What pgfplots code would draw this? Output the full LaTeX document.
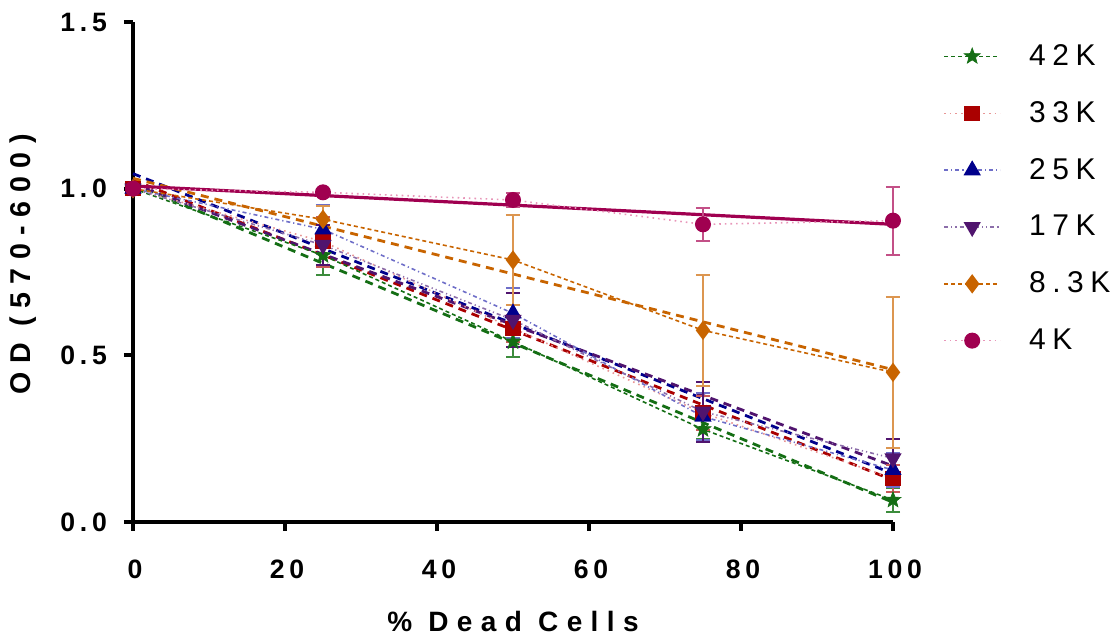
\documentclass[border=0pt]{standalone}
\usepackage{fontspec}
\setmainfont{Liberation Sans}
\newfontfamily\spfont[LetterSpace=30]{Liberation Sans}
\newfontfamily\tkfont[LetterSpace=18]{Liberation Sans}
\newfontfamily\legfont[LetterSpace=22]{Liberation Sans}
\usepackage{pgfplots}
\pgfplotsset{compat=1.18}
\usetikzlibrary{plotmarks}

\pgfdeclareplotmark{fstar}{%
  \pgfpathmoveto{\pgfpointpolar{90}{\pgfplotmarksize}}%
  \pgfpathlineto{\pgfpointpolar{126}{0.42\pgfplotmarksize}}%
  \pgfpathlineto{\pgfpointpolar{162}{\pgfplotmarksize}}%
  \pgfpathlineto{\pgfpointpolar{198}{0.42\pgfplotmarksize}}%
  \pgfpathlineto{\pgfpointpolar{234}{\pgfplotmarksize}}%
  \pgfpathlineto{\pgfpointpolar{270}{0.42\pgfplotmarksize}}%
  \pgfpathlineto{\pgfpointpolar{306}{\pgfplotmarksize}}%
  \pgfpathlineto{\pgfpointpolar{342}{0.42\pgfplotmarksize}}%
  \pgfpathlineto{\pgfpointpolar{18}{\pgfplotmarksize}}%
  \pgfpathlineto{\pgfpointpolar{54}{0.42\pgfplotmarksize}}%
  \pgfpathclose
  \pgfusepathqfillstroke}

\definecolor{cA}{RGB}{20,110,20}
\definecolor{cAl}{RGB}{60,140,60}
\definecolor{cB}{RGB}{170,0,0}
\definecolor{cBl}{RGB}{232,150,150}
\definecolor{cBe}{RGB}{200,90,90}
\definecolor{cC}{RGB}{0,0,140}
\definecolor{cCl}{RGB}{110,110,200}
\definecolor{cD}{RGB}{80,20,110}
\definecolor{cDl}{RGB}{140,110,170}
\definecolor{cE}{RGB}{200,100,0}
\definecolor{cEl}{RGB}{220,150,80}
\definecolor{cF}{RGB}{160,0,80}
\definecolor{cFl}{RGB}{232,150,185}
\definecolor{cFe}{RGB}{195,80,135}

\begin{document}
\begin{tikzpicture}
\begin{axis}[
  width=380pt, height=250pt, scale only axis,
  xmin=0, xmax=100, ymin=0, ymax=1.5,
  axis x line=bottom, axis y line=left,
  axis line style={-, line width=2pt, black},
  every tick/.style={black, line width=2pt},
  tick align=outside, major tick length=4.5pt,
  xtick={0,20,...,100}, ytick={0,0.5,1,1.5},
  yticklabel style={xshift=-5pt, /pgf/number format/fixed, /pgf/number format/fixed zerofill, /pgf/number format/precision=1},
  /pgf/number format/assume math mode=true,
  tick label style={font=\tkfont\bfseries\fontsize{13.3}{15}\selectfont},
  xticklabel style={yshift=-11pt, xshift=1pt},
  xlabel={\spfont\bfseries\fontsize{14}{16}\selectfont \% Dead Cells},
  ylabel={\spfont\bfseries\fontsize{14.3}{16}\selectfont OD (570-600)},
  xlabel style={at={(axis description cs:0.5,-0.2)}, anchor=center},
  ylabel style={at={(axis description cs:-0.145,0.515)}, anchor=center},
  clip=false,
  legend style={at={(axis description cs:1,1)}, anchor=north west, xshift=25pt, yshift=-9pt,
    draw=none, fill=none, font=\legfont\fontsize{15}{17}\selectfont,
    row sep=12.5pt, inner sep=0pt, column sep=12pt},
  legend cell align=left,
  legend image code/.code={\draw[mark repeat=2,mark phase=2,#1] plot coordinates {(0pt,0pt)(14pt,0pt)(28pt,0pt)};},
  error bars/y dir=both, error bars/y explicit,
  error bars/error mark options={rotate=90, mark size=3.5pt, line width=0.9pt},
]
\coordinate (bl) at (rel axis cs:0,0);
\coordinate (tr) at (rel axis cs:1,1);
% fitted lines
\addplot[forget plot, cA, line width=1.4pt, dash pattern=on 4pt off 3pt, no marks] coordinates {(0,1.015) (100,0.059)};
\addplot[forget plot, cB, line width=1.4pt, dash pattern=on 4pt off 3pt, no marks] coordinates {(0,1.026) (100,0.126)};
\addplot[forget plot, cC, line width=1.4pt, dash pattern=on 4pt off 3pt, no marks] coordinates {(0,1.045) (100,0.145)};
\addplot[forget plot, cD, line width=1.4pt, dash pattern=on 4pt off 3pt, no marks] coordinates {(0,1.015) (100,0.168)};
\addplot[forget plot, cE, line width=1.4pt, dash pattern=on 4pt off 3pt, no marks] coordinates {(0,1.031) (100,0.457)};
\addplot[forget plot, cF, line width=1.6pt, no marks] coordinates {(0,1.008) (100,0.893)};

% data
\addplot[cA, line width=0.8pt, dash pattern=on 2pt off 1.5pt, mark=fstar, mark size=4.2pt, mark options={solid, cA, line width=0.3pt, fill=cA},
  error bars/error bar style={cAl, line width=0.9pt, solid}] coordinates {
  (0,1.0) +- (0,0.01) (25,0.80) +- (0,0.06) (50,0.541) +- (0,0.045) (75,0.278) +- (0,0.03) (100,0.066) +- (0,0.035)};
\addlegendentry{42K}
\addplot[cBl, line width=0.8pt, dotted, mark=square*, mark size=3.5pt, mark options={solid, cB, fill=cB},
  error bars/error bar style={cBe, line width=0.9pt, solid}] coordinates {
  (0,1.0) +- (0,0.01) (25,0.841) +- (0,0.075) (50,0.581) +- (0,0.04) (75,0.327) +- (0,0.05) (100,0.131) +- (0,0.04)};
\addlegendentry{33K}
\addplot[cCl, line width=0.8pt, dash pattern=on 2pt off 1.5pt on 0.6pt off 1.5pt, mark=triangle*, mark size=4.2pt, mark options={solid, cC, fill=cC},
  error bars/error bar style={cCl, line width=0.9pt, solid}] coordinates {
  (0,1.0) +- (0,0.01) (25,0.878) +- (0,0.073) (50,0.626) +- (0,0.075) (75,0.316) +- (0,0.07) (100,0.156) +- (0,0.05)};
\addlegendentry{25K}
\addplot[cDl, line width=0.8pt, dash pattern=on 2pt off 1.5pt on 0.6pt off 1.5pt on 0.6pt off 1.5pt, mark=triangle*, mark size=4.2pt, mark options={solid, cD, fill=cD, rotate=180},
  error bars/error bar style={cD, line width=0.9pt, solid}] coordinates {
  (0,1.0) +- (0,0.01) (25,0.831) +- (0,0.06) (50,0.606) +- (0,0.08) (75,0.331) +- (0,0.09) (100,0.191) +- (0,0.058)};
\addlegendentry{17K}
\addplot[cE, line width=0.8pt, dash pattern=on 2pt off 1.5pt, mark=diamond*, mark size=4.2pt, mark options={solid, cE, fill=cE},
  error bars/error bar style={cEl, line width=0.9pt, solid}] coordinates {
  (0,1.0) +- (0,0.01) (25,0.908) +- (0,0.04) (50,0.786) +- (0,0.135) (75,0.575) +- (0,0.166) (100,0.449) +- (0,0.226)};
\addlegendentry{8.3K}
\addplot[cFl, line width=0.8pt, dotted, mark=*, mark size=3.6pt, mark options={solid, cF, fill=cF},
  error bars/error bar style={cFe, line width=0.9pt, solid}] coordinates {
  (0,1.0) +- (0,0.01) (25,0.989) +- (0,0.01) (50,0.966) +- (0,0.02) (75,0.893) +- (0,0.05) (100,0.904) +- (0,0.102)};
\addlegendentry{4K}
\end{axis}
\pgfresetboundingbox
\path ([shift={(-66.5pt,-58.5pt)}]bl) rectangle ([shift={(111pt,11pt)}]tr);
\end{tikzpicture}
\end{document}
